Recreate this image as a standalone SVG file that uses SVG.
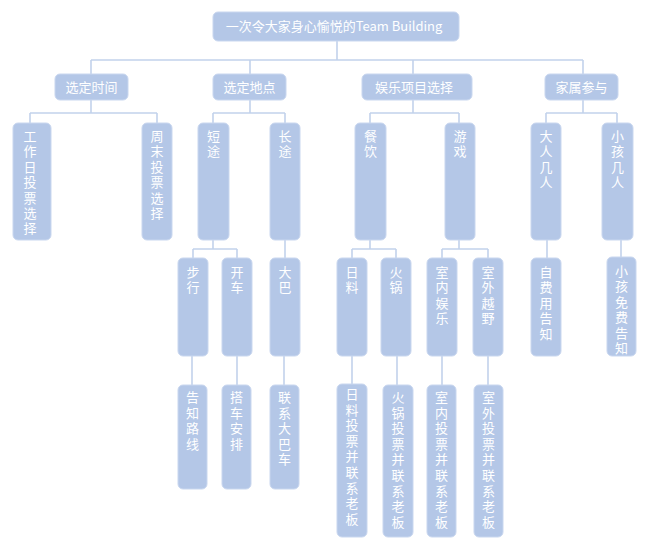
<svg xmlns="http://www.w3.org/2000/svg" width="656" height="553" viewBox="0 0 656 553">
<style>
.box{fill:#b4c7e7;stroke:#c9d7ef;stroke-width:1}
.t{font-family:"Noto Sans CJK SC","Liberation Sans",sans-serif;font-size:13px;fill:#ffffff}
.v{writing-mode:vertical-rl;text-orientation:upright;letter-spacing:2.4px}
.w{letter-spacing:2.6px}
.c{fill:none;stroke:#c2d2ec;stroke-width:1.6}
</style>
<rect width="656" height="553" fill="#ffffff"/>
<g id="connectors">
<path class="c" d="M337 41V60M91 60H583M91 60V74M250 60V74M413 60V74M583 60V74"/>
<path class="c" d="M91 100V113M30 113H157M30 113V123M157 113V123"/>
<path class="c" d="M250 100V113M213 113H285M213 113V123M285 113V123"/>
<path class="c" d="M413 100V113M370 113H459M370 113V123M459 113V123"/>
<path class="c" d="M583 100V113M546 113H617M546 113V123M617 113V123"/>
<path class="c" d="M213 240V249M193 249H237M193 249V258M237 249V258"/>
<path class="c" d="M285 240V258"/>
<path class="c" d="M370 240V249M352 249H396M352 249V258M396 249V258"/>
<path class="c" d="M459 240V249M442 249H488M442 249V258M488 249V258"/>
<path class="c" d="M547 240V258M621 240V258"/>
<path class="c" d="M192 356V385M237 356V385M284 356V385M352 356V385M397 356V385M442 356V385M488 356V385"/>
</g>
<g id="root"><rect class="box" x="213" y="12" width="246" height="29" rx="5"/><text class="t" x="334" y="31" text-anchor="middle">一次令大家身心愉悦的Team Building</text></g>
<g id="n1"><rect class="box" x="55" y="74" width="73" height="26" rx="5"/><text class="t" x="91.5" y="92" text-anchor="middle">选定时间</text></g>
<g id="n2"><rect class="box" x="213" y="74" width="73" height="26" rx="5"/><text class="t" x="249.5" y="92" text-anchor="middle">选定地点</text></g>
<g id="n3"><rect class="box" x="362" y="74" width="110" height="26" rx="5"/><text class="t" x="414" y="92" text-anchor="middle">娱乐项目选择</text></g>
<g id="n4"><rect class="box" x="545" y="74" width="73" height="26" rx="5"/><text class="t" x="581.5" y="92" text-anchor="middle">家属参与</text></g>

<g id="n11"><rect class="box" x="13" y="123" width="38" height="117" rx="5"/><text class="t v" x="30" y="129.5">工作日投票选择</text></g>
<g id="n12"><rect class="box" x="142" y="123" width="30" height="117" rx="5"/><text class="t v" x="157" y="129.5">周末投票选择</text></g>
<g id="n21"><rect class="box" x="198" y="123" width="31" height="117" rx="5"/><text class="t v" x="213.5" y="129.5">短途</text></g>
<g id="n22"><rect class="box" x="270" y="123" width="30" height="117" rx="5"/><text class="t v" x="285" y="129.5">长途</text></g>
<g id="n31"><rect class="box" x="355" y="123" width="31" height="117" rx="5"/><text class="t v" x="370.5" y="129.5">餐饮</text></g>
<g id="n32"><rect class="box" x="445" y="123" width="30" height="117" rx="5"/><text class="t v" x="460" y="129.5">游戏</text></g>
<g id="n41"><rect class="box" x="531" y="123" width="30" height="117" rx="5"/><text class="t v" x="546" y="129.5">大人几人</text></g>
<g id="n42"><rect class="box" x="602" y="123" width="31" height="117" rx="5"/><text class="t v" x="617.5" y="129.5">小孩几人</text></g>

<g id="n211"><rect class="box" x="178" y="258" width="30" height="98" rx="5"/><text class="t v" x="193" y="265.5">步行</text></g>
<g id="n212"><rect class="box" x="222" y="258" width="30" height="98" rx="5"/><text class="t v" x="237" y="265.5">开车</text></g>
<g id="n221"><rect class="box" x="270" y="258" width="30" height="98" rx="5"/><text class="t v" x="285" y="265.5">大巴</text></g>
<g id="n311"><rect class="box" x="337" y="258" width="30" height="98" rx="5"/><text class="t v" x="352" y="265.5">日料</text></g>
<g id="n312"><rect class="box" x="381" y="258" width="30" height="98" rx="5"/><text class="t v" x="396" y="265.5">火锅</text></g>
<g id="n321"><rect class="box" x="427" y="258" width="30" height="98" rx="5"/><text class="t v" x="442" y="265.5">室内娱乐</text></g>
<g id="n322"><rect class="box" x="473" y="258" width="30" height="98" rx="5"/><text class="t v" x="488" y="265.5">室外越野</text></g>
<g id="n411"><rect class="box" x="531" y="258" width="30" height="98" rx="5"/><text class="t v" x="546" y="265.5">自费用告知</text></g>
<g id="n421"><rect class="box" x="607" y="257" width="29" height="99" rx="5"/><text class="t v" x="621.5" y="264.5">小孩免费告知</text></g>

<g id="n2111"><rect class="box" x="178" y="385" width="29" height="104" rx="5"/><text class="t v w" x="192.5" y="390.5">告知路线</text></g>
<g id="n2121"><rect class="box" x="222" y="385" width="29" height="104" rx="5"/><text class="t v w" x="236.5" y="390.5">搭车安排</text></g>
<g id="n2211"><rect class="box" x="270" y="385" width="29" height="104" rx="5"/><text class="t v w" x="284.5" y="390.5">联系大巴车</text></g>
<g id="n3111"><rect class="box" x="337" y="384" width="30" height="153" rx="5"/><text class="t v w" x="352" y="387.5">日料投票并联系老板</text></g>
<g id="n3121"><rect class="box" x="383" y="385" width="30" height="152" rx="5"/><text class="t v w" x="398" y="390.5">火锅投票并联系老板</text></g>
<g id="n3211"><rect class="box" x="427" y="385" width="29" height="152" rx="5"/><text class="t v w" x="441.5" y="390.5">室内投票并联系老板</text></g>
<g id="n3221"><rect class="box" x="474" y="385" width="29" height="152" rx="5"/><text class="t v w" x="488.5" y="390.5">室外投票并联系老板</text></g>
</svg>
